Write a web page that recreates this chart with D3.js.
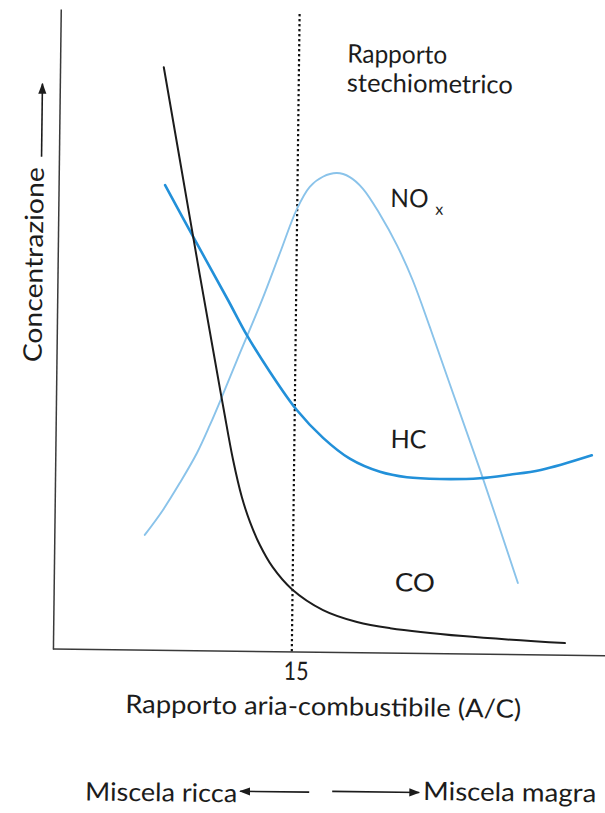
<!DOCTYPE html>
<html><head><meta charset="utf-8">
<script src="https://cdn.jsdelivr.net/npm/d3@7"></script>
<style>
html,body{margin:0;padding:0;background:#fff;}
svg{display:block;}
text{font-family:Lato,'Noto Sans',sans-serif;fill:#1c1c1c;}
</style>
</head><body>
<svg id="chart" width="605" height="813"></svg>
<script>
// Air/fuel ratio (A/C) and relative concentration values
const coAC   = [11.04, 11.49, 12.17, 12.64, 12.92, 13.21, 13.48, 13.73, 14.03, 14.41, 14.98, 15.90, 16.90, 17.87, 20.01, 23.00];
const coConc = [91.1, 78.2, 58.7, 45.5, 37.7, 29.9, 24.1, 20.2, 16.6, 13.2, 9.8, 6.6, 4.8, 3.9, 2.8, 1.9];

const hcAC   = [11.12, 11.98, 13.00, 13.57, 14.26, 15.06, 15.84, 16.63, 17.52, 18.31, 19.28, 20.45, 21.32, 22.23, 23.72];
const hcConc = [72.7, 64.5, 54.9, 49.4, 43.7, 37.8, 33.5, 30.3, 28.3, 27.5, 27.3, 27.5, 28.1, 28.9, 31.3];

const noxAC   = [10.65, 11.17, 11.66, 12.15, 12.52, 12.86, 13.29, 14.00, 14.51, 14.99, 15.36, 15.74, 16.15, 16.53, 16.92, 17.42, 17.93, 18.41, 18.93, 19.53, 20.45, 21.60];
const noxConc = [18.0, 21.9, 26.2, 30.9, 35.3, 39.7, 45.5, 54.9, 62.3, 69.2, 72.7, 74.3, 74.9, 74.3, 72.5, 68.6, 63.8, 58.3, 51.0, 42.2, 28.8, 11.2];

const seriesNames = ["CO", "HC", "NO"];
const stoichRatio = 15;
const xTickValues = [15];
const xTickLabels = ["15"];
const xTitle = "Rapporto aria-combustibile (A/C)";
const yTitle = "Concentrazione";
const stoichLabel = ["Rapporto", "stechiometrico"];
const richLabel = "Miscela ricca";
const leanLabel = "Miscela magra";

const W = 605, H = 813;
const FONT = "Lato,'Noto Sans',sans-serif";
const svg = d3.select("#chart");
const defs = svg.append("defs");
defs.append("marker").attr("id","arr").attr("viewBox","0 0 10 10")
  .attr("refX",9).attr("refY",5).attr("markerWidth",11).attr("markerHeight",11)
  .attr("markerUnits","userSpaceOnUse").attr("orient","auto-start-reverse")
  .append("path").attr("d","M0,1.3 L10,5 L0,8.7 Z").attr("fill","#1c1c1c");

// the scanned page is slightly rotated
const g = svg.append("g").attr("transform","rotate(0.7,300,400)");

const x = d3.scaleLinear().domain([8, 24]).range([56, 602]);
const y = d3.scaleLinear().domain([0, 100]).range([652, 12]);

// axes
const yAxis = g.append("g").attr("transform", `translate(${x.range()[0]},0)`)
  .call(d3.axisLeft(y).tickValues([]).tickSizeOuter(0));
yAxis.select(".domain").attr("stroke","#3a3a3a").attr("stroke-width",1.5);

const xAxis = g.append("g").attr("transform", `translate(0,${y.range()[0]})`)
  .call(d3.axisBottom(x).tickValues(xTickValues).tickSize(0)
    .tickFormat((d,i) => xTickLabels[i]));
xAxis.select(".domain").remove();
xAxis.selectAll("text").attr("y", 28).attr("dy", 0).attr("x", 4)
  .style("font-size","25.5px").style("font-family",FONT).attr("fill","#1c1c1c")
  .attr("textLength",25).attr("lengthAdjust","spacingAndGlyphs");
g.append("line").attr("x1", x.range()[0]).attr("x2", W + 20)
  .attr("y1", y(0)).attr("y2", y(0)).attr("stroke","#3a3a3a").attr("stroke-width",1.5);

// stoichiometric dashed line
g.append("line").attr("x1", x(stoichRatio)).attr("x2", x(stoichRatio))
  .attr("y1", 14).attr("y2", y(0))
  .attr("stroke","#111").attr("stroke-width",2.2).attr("stroke-dasharray","2.4,2.6");

const line = d3.line().x(d => x(d[0])).y(d => y(d[1])).curve(d3.curveCatmullRom.alpha(0.5));

const series = [
  {name:"NOx", xs:noxAC, ys:noxConc, color:"#8ac3ea", w:1.9},
  {name:"HC",  xs:hcAC,  ys:hcConc,  color:"#2290d9", w:2.6},
  {name:"CO",  xs:coAC,  ys:coConc,  color:"#1c1c1c", w:2.0}
];
g.selectAll("path.series").data(series).join("path").attr("class","series")
  .attr("d", s => line(d3.zip(s.xs, s.ys)))
  .attr("fill","none").attr("stroke", s => s.color).attr("stroke-width", s => s.w)
  .attr("stroke-linecap","round");

// labels
const fs = "25.5px";
function label(parent, txt, px, py, len, anchor) {
  return parent.append("text").attr("x",px).attr("y",py).style("font-size",fs)
    .attr("text-anchor", anchor || "start")
    .attr("textLength",len).attr("lengthAdjust","spacingAndGlyphs").text(txt);
}
label(g, stoichLabel[0], 343, 62, 100);
label(g, stoichLabel[1], 343, 91, 166);

label(g, seriesNames[2], 388, 206, 38);
g.append("text").attr("x",433).attr("y",213).style("font-size","16px").text("x");

label(g, seriesNames[1], 391, 447, 36);
label(g, seriesNames[0], 397, 590, 40);

label(g, xTitle, 327, 715, 396, "middle");

g.append("text").attr("transform","translate(41,268) rotate(-90)")
  .attr("text-anchor","middle").style("font-size",fs)
  .attr("textLength",195).attr("lengthAdjust","spacingAndGlyphs").text(yTitle);
g.append("line").attr("x1",38.6).attr("x2",38.6).attr("y1",160).attr("y2",87)
  .attr("stroke","#1c1c1c").attr("stroke-width",1.6).attr("marker-end","url(#arr)");

label(g, richLabel, 90, 803, 152);
g.append("line").attr("x1",314).attr("x2",245).attr("y1",792).attr("y2",792)
  .attr("stroke","#1c1c1c").attr("stroke-width",1.6).attr("marker-end","url(#arr)");
g.append("line").attr("x1",337).attr("x2",424).attr("y1",791).attr("y2",791)
  .attr("stroke","#1c1c1c").attr("stroke-width",1.6).attr("marker-end","url(#arr)");
label(g, leanLabel, 428, 798.5, 173);
</script>
</body></html>
